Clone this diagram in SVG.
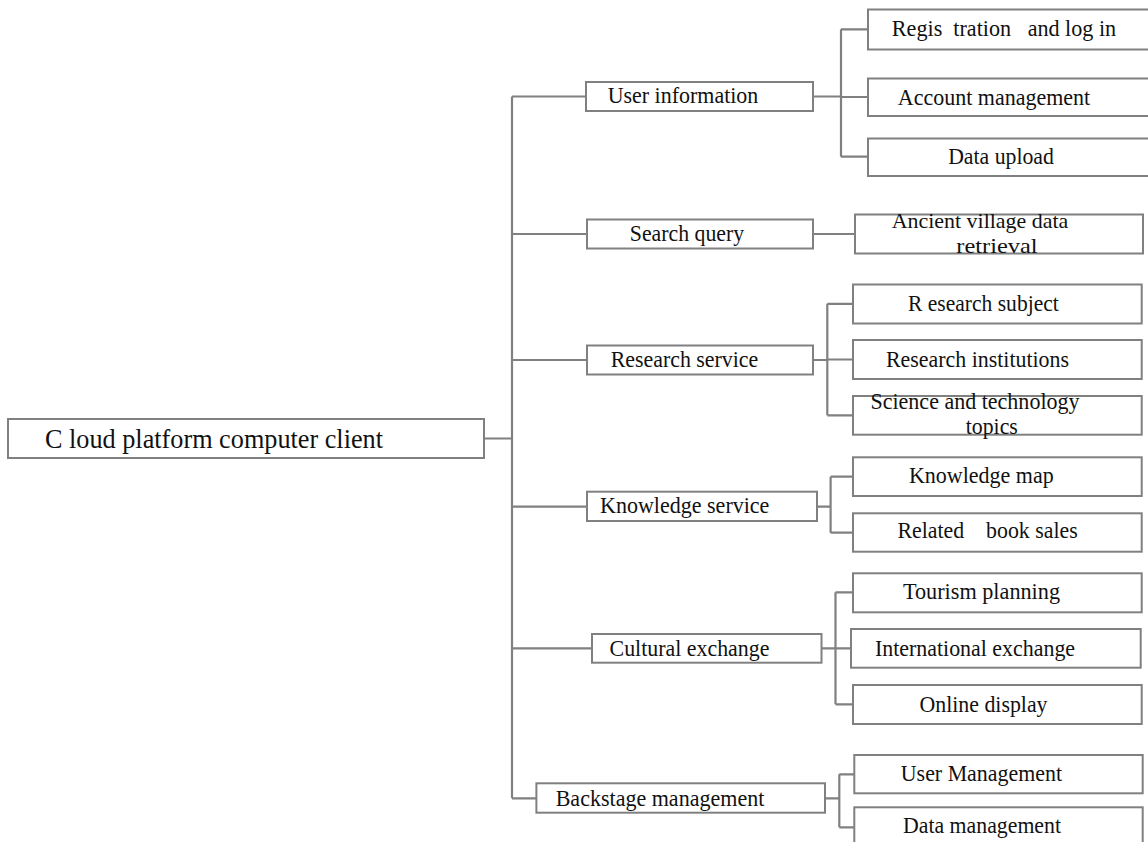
<svg xmlns="http://www.w3.org/2000/svg" width="1148" height="842" viewBox="0 0 1148 842">
<style>
.box{fill:#ffffff;stroke:#808080;stroke-width:2}
.t{font-family:"Liberation Serif","Times New Roman",serif;font-size:23.5px;fill:#111;text-anchor:middle;white-space:pre}
.root{font-size:27px}
.sm{font-size:22px}
.c{fill:none;stroke:#808080;stroke-width:2.2}
</style>
<rect width="1148" height="842" fill="#ffffff"/>
<g id="connectors">
<path class="c" d="M484,438.5 H512 M512,96.5 V798.3 M512,96.5 H586 M512,234 H587 M512,360 H587 M512,506.7 H587 M512,648.3 H592 M512,798.3 H536"/>
<path class="c" d="M813,96.5 H841 M841,29.3 V156.7 M841,29.3 H868 M841,97 H868 M841,156.7 H868"/>
<path class="c" d="M813,234 H855"/>
<path class="c" d="M813,360 H827.3 M827.3,303.8 V415.3 M827.3,303.8 H853 M827.3,359.5 H853 M827.3,415.3 H853"/>
<path class="c" d="M817,506.7 H830.6 M830.6,476.7 V532.7 M830.6,476.7 H853 M830.6,532.7 H853"/>
<path class="c" d="M821.5,648.3 H835.5 M835.5,592.3 V704.3 M835.5,592.3 H853 M835.5,648.3 H851 M835.5,704.3 H853"/>
<path class="c" d="M825,798.3 H839.3 M839.3,774.3 V827.3 M839.3,774.3 H854.3 M839.3,827.3 H854.3"/>
</g>
<g id="root"><rect class="box" x="8" y="419" width="476" height="39"/><text class="t root" x="214" y="448" textLength="338" lengthAdjust="spacingAndGlyphs">C loud platform computer client</text></g>
<g id="user-information"><rect class="box" x="586" y="82" width="227" height="29"/><text class="t" x="683" y="102.5" textLength="150.7" lengthAdjust="spacingAndGlyphs">User information</text></g>
<g id="registration"><rect class="box" x="868" y="9.5" width="300" height="40"/><text class="t" x="1004" y="36" textLength="224.3" lengthAdjust="spacingAndGlyphs">Regis  tration   and log in</text></g>
<g id="account-management"><rect class="box" x="868" y="78.5" width="300" height="37.5"/><text class="t" x="994" y="105" textLength="192.3" lengthAdjust="spacingAndGlyphs">Account management</text></g>
<g id="data-upload"><rect class="box" x="868" y="138.5" width="300" height="37.5"/><text class="t" x="1001" y="164" textLength="105.7" lengthAdjust="spacingAndGlyphs">Data upload</text></g>
<g id="search-query"><rect class="box" x="587" y="219.5" width="226" height="29"/><text class="t" x="687" y="241" textLength="114.3" lengthAdjust="spacingAndGlyphs">Search query</text></g>
<g id="ancient-village"><rect class="box" x="855" y="214.5" width="288" height="39"/><text class="t sm" x="980" y="228" textLength="176.7" lengthAdjust="spacingAndGlyphs">Ancient village data</text><text class="t sm" x="997" y="252.5" textLength="81.3" lengthAdjust="spacingAndGlyphs">retrieval</text></g>
<g id="research-service"><rect class="box" x="587" y="345.5" width="226" height="29"/><text class="t" x="684.5" y="366.5" textLength="147.6" lengthAdjust="spacingAndGlyphs">Research service</text></g>
<g id="research-subject"><rect class="box" x="853" y="284.5" width="288.7" height="39"/><text class="t" x="983.4" y="310.7" textLength="150.7" lengthAdjust="spacingAndGlyphs">R esearch subject</text></g>
<g id="research-institutions"><rect class="box" x="853" y="340" width="288.7" height="39"/><text class="t" x="977.5" y="366.7" textLength="183" lengthAdjust="spacingAndGlyphs">Research institutions</text></g>
<g id="science-technology"><rect class="box" x="853" y="396" width="288.7" height="38.7"/><text class="t" x="975" y="409.3" textLength="209.1" lengthAdjust="spacingAndGlyphs">Science and technology</text><text class="t" x="991.8" y="434" textLength="52.1" lengthAdjust="spacingAndGlyphs">topics</text></g>
<g id="knowledge-service"><rect class="box" x="587" y="491.7" width="230" height="29.3"/><text class="t" x="684.7" y="513.3" textLength="169.4" lengthAdjust="spacingAndGlyphs">Knowledge service</text></g>
<g id="knowledge-map"><rect class="box" x="853" y="457.3" width="288.7" height="38.7"/><text class="t" x="981.3" y="483.3" textLength="144.7" lengthAdjust="spacingAndGlyphs">Knowledge map</text></g>
<g id="related-book-sales"><rect class="box" x="853" y="513.3" width="288.7" height="38.4"/><text class="t" x="987.6" y="538.3" textLength="180.2" lengthAdjust="spacingAndGlyphs">Related    book sales</text></g>
<g id="cultural-exchange"><rect class="box" x="592" y="634" width="229.5" height="28.7"/><text class="t" x="689.5" y="655.7" textLength="159.9" lengthAdjust="spacingAndGlyphs">Cultural exchange</text></g>
<g id="tourism-planning"><rect class="box" x="853" y="573.3" width="288.7" height="39"/><text class="t" x="981.5" y="599.3" textLength="157" lengthAdjust="spacingAndGlyphs">Tourism planning</text></g>
<g id="international-exchange"><rect class="box" x="851" y="629" width="289.7" height="38.7"/><text class="t" x="975" y="655.7" textLength="200.2" lengthAdjust="spacingAndGlyphs">International exchange</text></g>
<g id="online-display"><rect class="box" x="853" y="685" width="288.7" height="39"/><text class="t" x="983.5" y="711.7" textLength="128.1" lengthAdjust="spacingAndGlyphs">Online display</text></g>
<g id="backstage-management"><rect class="box" x="536.4" y="783.3" width="288.6" height="29.4"/><text class="t" x="660" y="805.7" textLength="208.7" lengthAdjust="spacingAndGlyphs">Backstage management</text></g>
<g id="user-management"><rect class="box" x="854.3" y="755" width="288.4" height="38.3"/><text class="t" x="981.4" y="781" textLength="161.2" lengthAdjust="spacingAndGlyphs">User Management</text></g>
<g id="data-management"><rect class="box" x="854.3" y="807.3" width="288.4" height="50"/><text class="t" x="982" y="833.3" textLength="158" lengthAdjust="spacingAndGlyphs">Data management</text></g>
</svg>
